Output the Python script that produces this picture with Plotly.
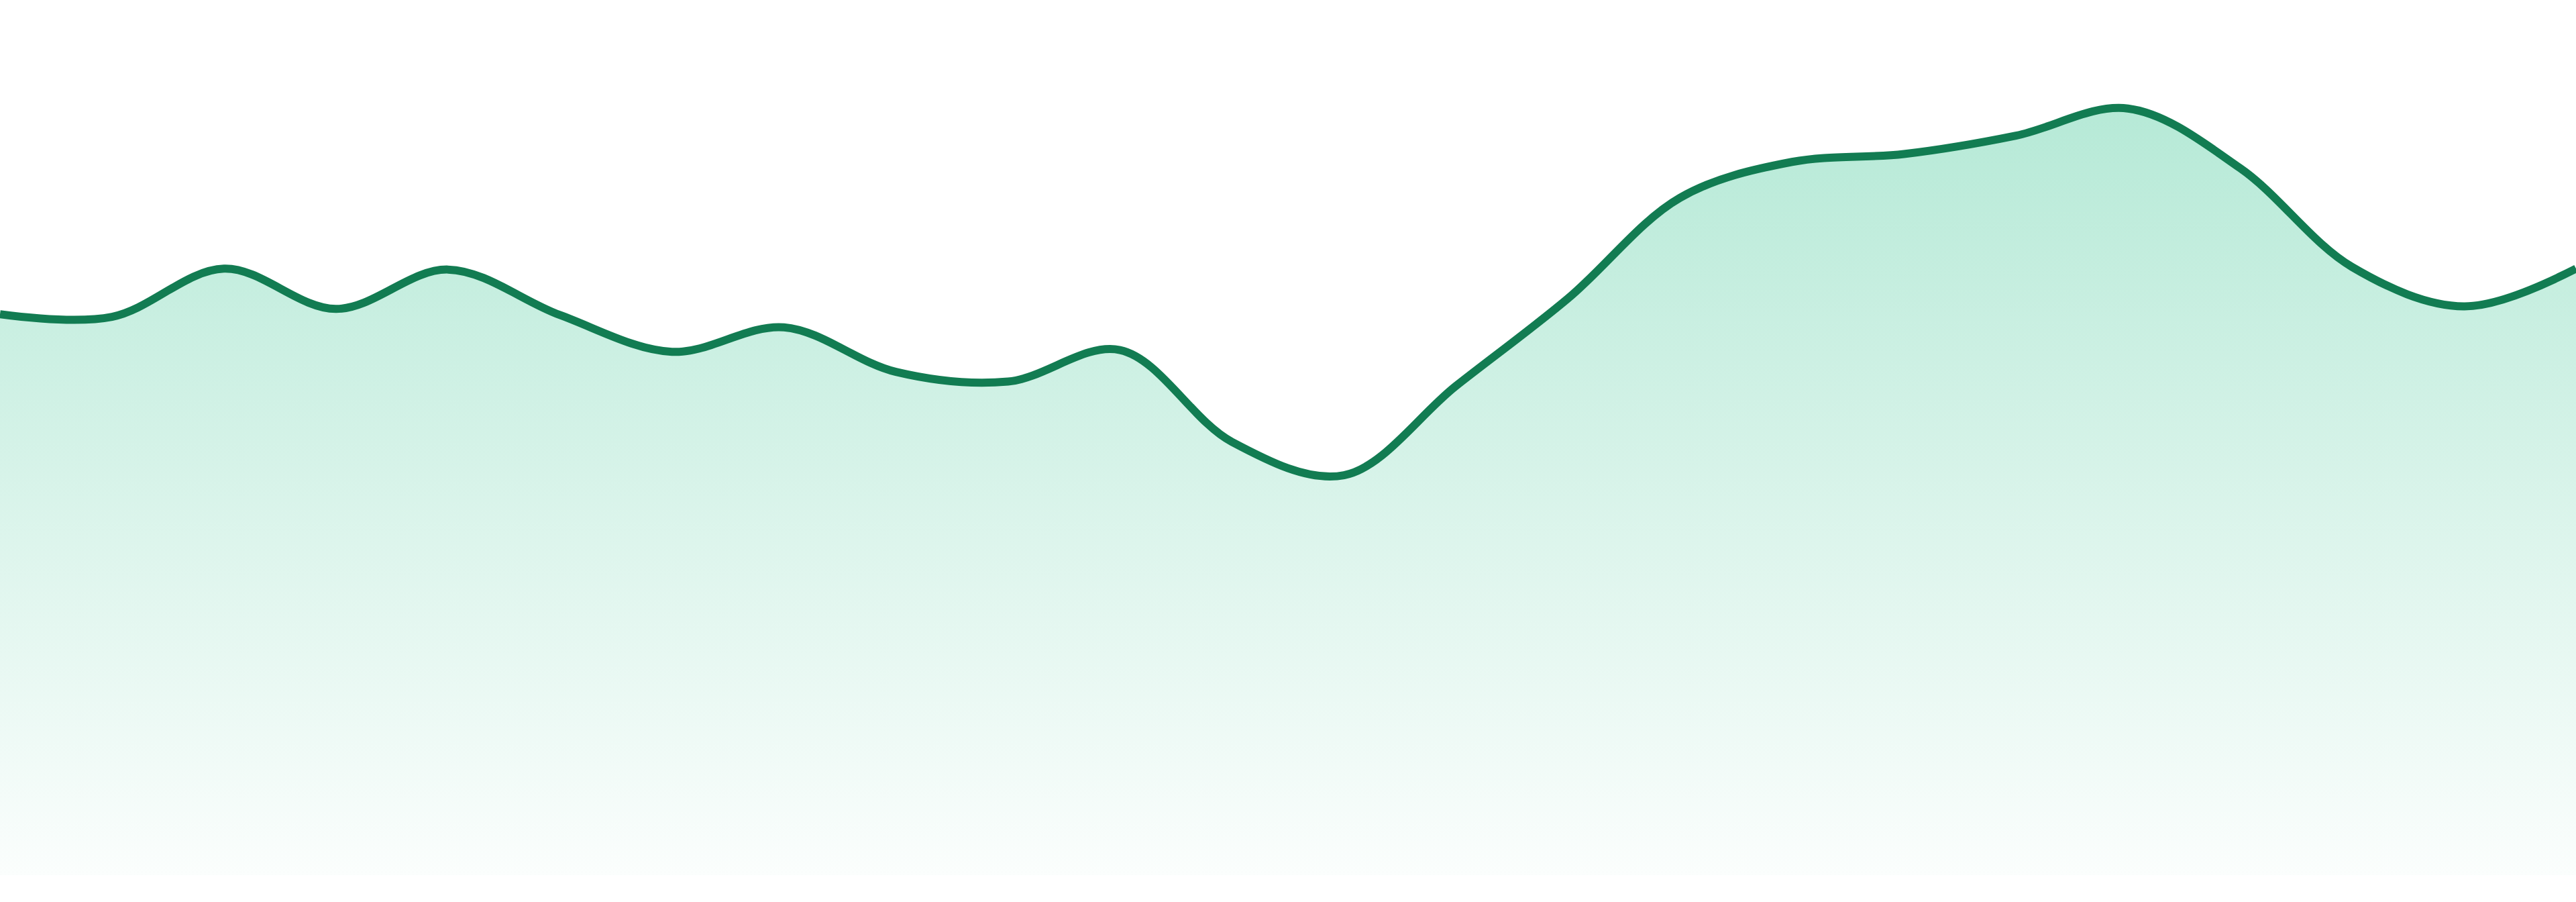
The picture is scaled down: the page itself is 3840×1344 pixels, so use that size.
import plotly.graph_objects as go

# Data (arbitrary units, 0..100 scale)
periods = list(range(24))
values = [64.1, 63.8, 69.3, 64.7, 69.2, 64.0, 59.8, 62.6, 57.5, 56.4,
          60.0, 49.5, 45.7, 55.9, 65.9, 77.4, 81.5, 82.4, 84.5, 87.6,
          80.8, 69.5, 65.0, 69.3]

LINE_COLOR = "#127c52"

fig = go.Figure()
fig.add_trace(go.Scatter(
    x=periods,
    y=values,
    mode="lines",
    line=dict(color=LINE_COLOR, width=12, shape="spline", smoothing=1.0),
    fill="tozeroy",
    fillgradient=dict(
        type="vertical",
        colorscale=[[0, "rgba(52,195,143,0.02)"], [1, "rgba(52,195,143,0.36)"]],
        start=0,
        stop=max(values),
    ),
    hoverinfo="skip",
))

fig.update_layout(
    width=3840,
    height=1344,
    margin=dict(l=0, r=0, t=0, b=40),
    paper_bgcolor="white",
    plot_bgcolor="white",
    showlegend=False,
    xaxis=dict(visible=False, range=[0, 23], fixedrange=True),
    yaxis=dict(visible=False, range=[0, 100], fixedrange=True),
)

fig.write_html(
    "out.html",
    config={"displayModeBar": False},
    post_script="document.body.style.margin='0';document.body.style.overflow='hidden';",
)
